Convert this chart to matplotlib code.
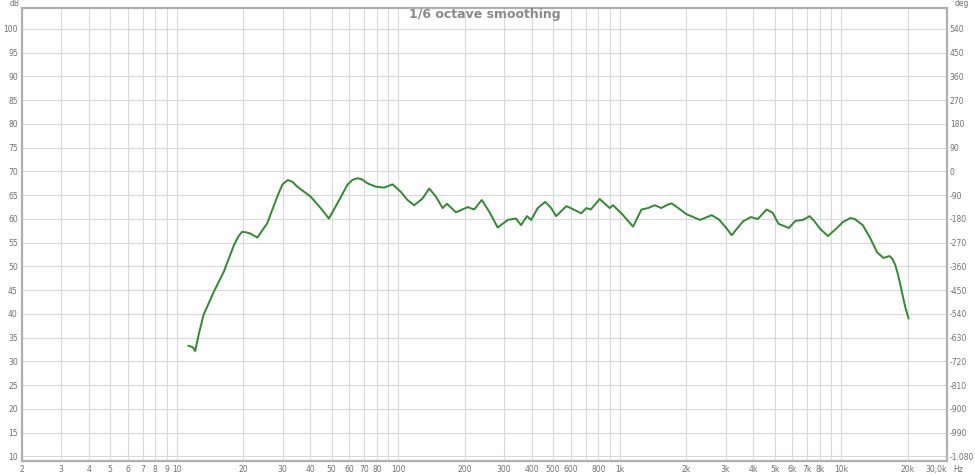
import numpy as np
import matplotlib
matplotlib.use('Agg')
import matplotlib.pyplot as plt

# frequency response (Hz, dB)
freq = [11.3, 11.8, 12.1, 12.6, 13.2, 14.7, 16.3, 18.1, 19.0, 19.7, 20.5, 21.3,
        23.1, 25.6, 28.4, 30.0, 31.7, 33.3, 35.0, 40.2, 44.6, 48.6, 53.1, 58.9,
        62.0, 65.4, 68.8, 72.6, 79.1, 86.3, 94.2, 102.7, 110, 117.9, 128, 137.9,
        147.8, 158.5, 165.8, 182, 205.7, 220, 238, 257.7, 281, 312, 340, 358,
        381, 398, 426, 460, 490, 516, 573, 600, 670, 706, 740, 811, 900, 931,
        1016, 1148, 1252, 1341, 1438, 1541, 1624, 1711, 1800, 1900, 2000, 2100,
        2300, 2600, 2800, 3000, 3200, 3600, 3900, 4200, 4600, 4900, 5200, 5800,
        6200, 6700, 7200, 7600, 8000, 8700, 9500, 10200, 11000, 11500, 12500,
        13500, 14500, 15500, 16500, 17000, 17500, 18000, 18500, 19000, 19500, 20100]
spl = [33.3, 33.0, 32.2, 36.0, 39.8, 44.7, 48.9, 54.5, 56.4, 57.3, 57.2, 57.0,
       56.1, 59.1, 64.7, 67.3, 68.2, 67.8, 66.8, 64.7, 62.3, 60.1, 63.3, 67.2,
       68.2, 68.6, 68.3, 67.5, 66.8, 66.6, 67.3, 65.7, 64.0, 62.9, 64.2, 66.4,
       64.7, 62.3, 63.2, 61.4, 62.5, 62.0, 64.0, 61.5, 58.2, 59.8, 60.1, 58.7,
       60.6, 59.8, 62.3, 63.6, 62.3, 60.6, 62.7, 62.3, 61.2, 62.3, 62.0, 64.2,
       62.3, 62.9, 61.2, 58.4, 62.0, 62.3, 62.9, 62.3, 62.9, 63.3, 62.6, 61.8,
       61.0, 60.6, 59.8, 60.8, 59.9, 58.3, 56.6, 59.5, 60.4, 60.0, 62.0, 61.3,
       59.0, 58.1, 59.6, 59.8, 60.6, 59.4, 58.0, 56.4, 58.0, 59.4, 60.2, 60.0,
       58.7, 56.0, 53.0, 51.8, 52.2, 51.6, 50.4, 48.4, 46.0, 43.5, 41.2, 39.1]

y_ticks = list(range(10, 105, 5))
deg_ticks = list(range(-1080, 541, 90))
x_label_ticks = [2, 3, 4, 5, 6, 7, 8, 9, 10, 20, 30, 40, 50, 60, 70, 80, 100,
                 200, 300, 400, 500, 600, 800, 1000, 2000, 3000, 4000, 5000,
                 6000, 7000, 8000, 10000, 20000, 30000]
x_labels = ['2', '3', '4', '5', '6', '7', '8', '9', '10', '20', '30', '40', '50',
            '60', '70', '80', '100', '200', '300', '400', '500', '600', '800',
            '1k', '2k', '3k', '4k', '5k', '6k', '7k', '8k', '10k', '20k', '30,0k']

fig = plt.figure(figsize=(9.75, 4.75), dpi=100)
ax = fig.add_axes([22/975, 14/475, 925/975, 453/475])

grid_x = [m * 10**e for e in range(0, 5) for m in range(1, 10)]
grid_x = [g for g in grid_x if 2 <= g <= 20000]
for g in grid_x:
    ax.axvline(g, color='#d9d9d9', lw=0.8, zorder=0)
for t in y_ticks:
    ax.axhline(t, color='#d9d9d9', lw=0.8, zorder=0)

ax.plot(freq, spl, color='#2e8b2e', lw=1.4, zorder=3)

ax.set_xscale('log')
ax.set_xlim(2, 30000)
ax.set_ylim(9.05, 104.42)
ax.set_xticks(x_label_ticks)
ax.set_xticklabels(x_labels)
ax.xaxis.set_minor_locator(matplotlib.ticker.NullLocator())
ax.set_yticks(y_ticks)
ax.tick_params(length=0, labelsize=5.5, labelcolor='#707070', pad=3)
ax.get_xticklabels()[-1].set_horizontalalignment('right')

for s in ax.spines.values():
    s.set_color('#b0b0b0')
    s.set_linewidth(1.6)

ax2 = ax.twinx()
ax2.set_ylim((9.05 - 70) * 18, (104.42 - 70) * 18)
ax2.set_yticks(deg_ticks)
ax2.set_yticklabels([f'{d:,}'.replace(',', '.') for d in deg_ticks])
ax2.tick_params(length=0, labelsize=5.5, labelcolor='#707070', pad=2)
for s in ax2.spines.values():
    s.set_visible(False)

ax.text(0.5, 0.985, '1/6 octave smoothing', transform=ax.transAxes,
        ha='center', va='center', fontsize=9, fontweight='bold', color='#8a8a8a')
fig.text(15/975, 1 - 4/475, 'dB', fontsize=5.5, color='#707070', ha='center', va='center')
fig.text(962/975, 1 - 4/475, 'deg', fontsize=5.5, color='#707070', ha='center', va='center')
fig.text(953/975, 1 - 469/475, 'Hz', fontsize=5.5, color='#707070', ha='left', va='center')

fig.savefig('out.png', dpi=100, facecolor='white')
